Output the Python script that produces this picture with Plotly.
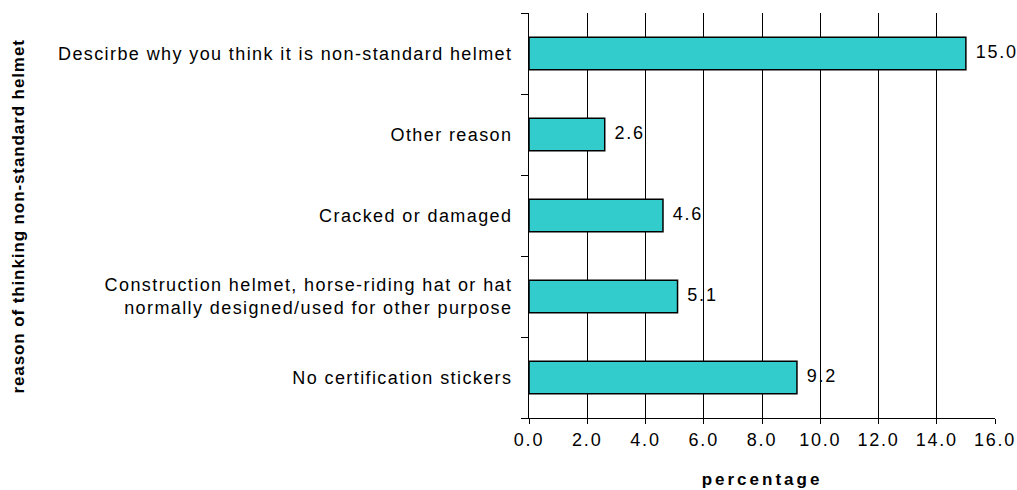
import plotly.graph_objects as go

# Reasons, listed bottom to top as they appear on the axis
reasons = [
    "No certification stickers",
    "Construction helmet, horse-riding hat or hat<br>normally designed/used for other purpose",
    "Cracked or damaged",
    "Other reason",
    "Descirbe why you think it is non-standard helmet",
]
percentages = [9.2, 5.1, 4.6, 2.6, 15.0]

x_ticks = [0, 2, 4, 6, 8, 10, 12, 14, 16]

font_family = "Liberation Sans, Arial, sans-serif"
label_size = 18

fig = go.Figure()

fig.add_trace(
    go.Bar(
        x=percentages,
        y=reasons,
        orientation="h",
        width=0.4,
        marker=dict(color="#33CCCC", line=dict(color="#000000", width=1.5)),
        hoverinfo="x+y",
    )
)

# Value labels just right of each bar end (invisible markers give the gap)
fig.add_trace(
    go.Scatter(
        x=percentages,
        y=reasons,
        mode="markers+text",
        marker=dict(size=14, color="rgba(0,0,0,0)"),
        text=[f"{v:.1f}" for v in percentages],
        textposition="middle right",
        textfont=dict(family=font_family, size=label_size, color="#000000"),
        cliponaxis=False,
        hoverinfo="skip",
    )
)

fig.update_layout(
    width=1017,
    height=490,
    margin=dict(l=529, r=22, t=13, b=72),
    paper_bgcolor="white",
    plot_bgcolor="white",
    showlegend=False,
    font=dict(family=font_family, color="#000000"),
    xaxis=dict(
        range=[0, 16],
        tickvals=x_ticks,
        tickformat=".1f",
        showgrid=True,
        gridcolor="#000000",
        gridwidth=1,
        zeroline=False,
        showline=True,
        linecolor="#000000",
        linewidth=1,
        ticks="outside",
        ticklen=5,
        tickcolor="#000000",
        tickfont=dict(size=label_size),
        automargin=False,
        title=dict(
            text="<b>percentage</b>",
            font=dict(size=17),
            standoff=24,
        ),
    ),
    yaxis=dict(
        range=[-0.5, 4.5],
        showgrid=False,
        zeroline=False,
        showline=True,
        linecolor="#000000",
        linewidth=1,
        ticks="outside",
        tickson="boundaries",
        ticklen=7,
        tickcolor="#000000",
        tickfont=dict(size=label_size),
        ticklabelstandoff=12,
        automargin=False,
    ),
    annotations=[
        dict(
            text="<b>reason of thinking non-standard helmet</b>",
            xref="paper",
            yref="paper",
            x=(18 - 529) / (1017 - 529 - 22),
            y=0.5,
            xanchor="center",
            yanchor="middle",
            textangle=-90,
            showarrow=False,
            font=dict(size=17, family=font_family, color="#000000"),
        )
    ],
)

# Wider character spacing for the chart's text
spacing_css = (
    ".ytick text{letter-spacing:1.4px}"
    ".xtick text{letter-spacing:1.8px}"
    ".textpoint text{letter-spacing:1.8px}"
    ".xtitle{letter-spacing:3px}"
    ".annotation-text{letter-spacing:0.9px}"
)
post_script = (
    "var s=document.createElement('style');"
    f"s.textContent='{spacing_css}';"
    "document.head.appendChild(s);"
)

fig.write_html("out.html", post_script=post_script)
